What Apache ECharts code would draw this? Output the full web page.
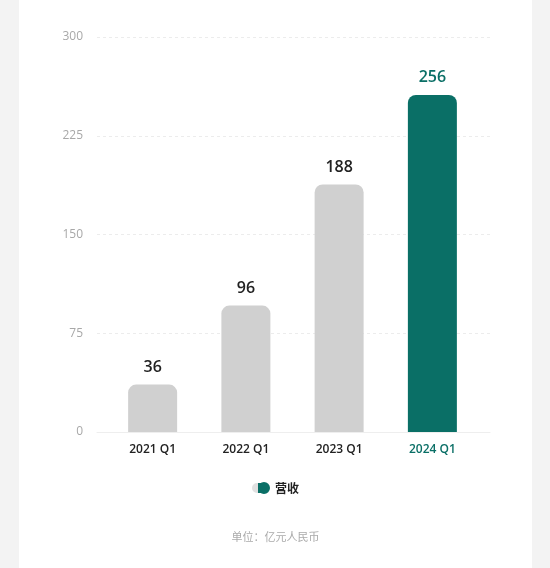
<!DOCTYPE html>
<html>
<head>
<meta charset="utf-8">
<script src="https://cdn.jsdelivr.net/npm/echarts@6/dist/echarts.min.js"></script>
<style>
  html, body { margin: 0; padding: 0; background: #f3f3f3; }
  #main { position: absolute; left: 19px; top: 0; width: 513px; height: 568px; background: #fff; }
</style>
</head>
<body>
<div id="main"></div>
<script>
var categories = ['2021 Q1', '2022 Q1', '2023 Q1', '2024 Q1'];
var revenue = [36, 96, 188, 256];
var seriesName = '营收';
var unitText = '单位：亿元人民币';

var grey = '#d0d0d0';
var teal = '#0a6f66';
var numFont = '"Open Sans", "Noto Sans CJK SC", sans-serif';
var cjkFont = '"Noto Sans CJK SC", sans-serif';

var chart = echarts.init(document.getElementById('main'));

var option = {
  backgroundColor: '#fff',
  textStyle: { fontFamily: numFont },
  title: {
    text: unitText,
    left: 'center',
    top: 526,
    textStyle: { color: '#aaa', fontSize: 11, fontWeight: 'normal', fontFamily: cjkFont }
  },
  legend: {
    data: [seriesName],
    left: 'center',
    top: 477,
    itemWidth: 18,
    itemHeight: 12,
    itemGap: 6,
    icon: 'path://M5,1 L12,1 A5,5 0 0 1 12,11 L5,11 A5,5 0 0 1 5,1 Z M18,6 A6,6 0 1 1 6,6 A6,6 0 1 1 18,6 Z',
    itemStyle: {
      color: {
        type: 'linear', x: 0, y: 0, x2: 1, y2: 0,
        colorStops: [
          { offset: 0, color: '#e0e0e0' },
          { offset: 0.33, color: '#e0e0e0' },
          { offset: 0.34, color: teal },
          { offset: 1, color: teal }
        ]
      }
    },
    textStyle: { color: '#222', fontSize: 12, fontWeight: 'bold', fontFamily: cjkFont }
  },
  grid: [
    { left: 87, right: 53, top: 37, bottom: 136 },
    { left: 78, right: 42, top: 37, bottom: 136 }
  ],
  xAxis: [
    {
      type: 'category',
      gridIndex: 0,
      data: categories,
      axisLine: { show: false },
      axisTick: { show: false },
      axisLabel: {
        margin: 12,
        fontSize: 12,
        fontWeight: 600,
        color: function (value, index) {
          return index === categories.length - 1 ? teal : '#222';
        }
      }
    },
    {
      type: 'category',
      gridIndex: 1,
      data: categories,
      axisLine: { show: true, lineStyle: { color: '#eeeeee', width: 1 } },
      axisTick: { show: false },
      axisLabel: { show: false }
    }
  ],
  yAxis: [
    {
      type: 'value',
      gridIndex: 0,
      min: 0,
      max: 300,
      interval: 75,
      axisLine: { show: false },
      axisTick: { show: false },
      axisLabel: { show: false },
      splitLine: { show: false }
    },
    {
      type: 'value',
      gridIndex: 1,
      min: 0,
      max: 300,
      interval: 75,
      axisLine: { show: false },
      axisTick: { show: false },
      axisLabel: { color: '#a8a8a8', fontSize: 12, margin: 14 },
      splitLine: { lineStyle: { color: '#ececec', type: [3, 3], width: 1 } }
    }
  ],
  series: [
    {
      name: seriesName,
      type: 'bar',
      xAxisIndex: 0,
      yAxisIndex: 0,
      barWidth: 49,
      data: revenue.map(function (v, i) {
        var last = i === revenue.length - 1;
        return {
          value: v,
          itemStyle: { color: last ? teal : grey },
          label: { color: last ? teal : '#222' }
        };
      }),
      itemStyle: { color: teal, borderRadius: [8, 8, 0, 0] },
      label: {
        show: true,
        position: 'top',
        distance: 9,
        fontSize: 16,
        fontWeight: 600
      }
    }
  ]
};

chart.setOption(option);
</script>
</body>
</html>
